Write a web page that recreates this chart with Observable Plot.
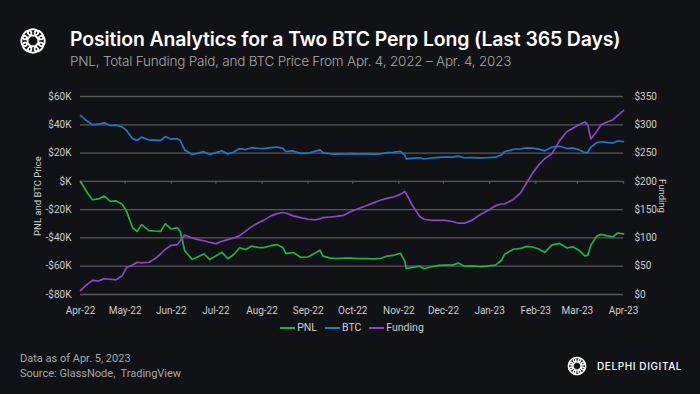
<!DOCTYPE html>
<html>
<head>
<meta charset="utf-8">
<script src="https://cdn.jsdelivr.net/npm/d3@7"></script>
<script src="https://cdn.jsdelivr.net/npm/@observablehq/plot@0.6"></script>
<style>
  html, body { margin: 0; padding: 0; background: #111215; }
  #wrap { position: relative; width: 700px; height: 394px; overflow: hidden; background: #111215; font-family: Inter, Roboto, sans-serif; }
  .abs { position: absolute; white-space: nowrap; }
  #title { left: 70px; top: 27px; font-size: 19.4px; font-weight: 600; color: #ffffff; letter-spacing: -0.1px; }
  #subtitle { left: 70px; top: 53px; font-size: 13.5px; font-weight: 300; color: #a9a9a9; letter-spacing: -0.2px; }
  .vlab { font-size: 9.5px; color: #cfcfcf; font-family: Roboto, sans-serif; line-height: 12px; width: 0; height: 0; }
  .vlab span { position: absolute; left: 0; top: 0; white-space: nowrap; }
  #ylab { left: 38px; top: 196px; }
  #ylab span { transform: translate(-50%, -50%) rotate(-90deg); transform-origin: 50% 50%; }
  #y2lab { left: 662px; top: 196px; }
  #y2lab span { transform: translate(-50%, -50%) rotate(90deg); transform-origin: 50% 50%; }
  #legend { left: 0; width: 700px; top: 321px; display: flex; justify-content: center; gap: 8px; font-family: Roboto, sans-serif; font-size: 10.5px; color: #cfcfcf; padding-left: 2px; }
  #legend span.item { display: inline-flex; align-items: center; }
  #legend span.sw { display: inline-block; width: 15px; height: 2px; margin-right: 2px; }
  #foot1 { left: 20px; top: 352px; font-size: 11px; color: #a9a9a9; font-family: Roboto, sans-serif; }
  #foot2 { left: 20px; top: 367px; font-size: 11px; color: #a9a9a9; font-family: Roboto, sans-serif; }
  #brand { left: 597px; top: 360px; font-size: 10px; font-weight: 500; color: #ffffff; letter-spacing: 0.6px; font-family: Inter, sans-serif; }
  #chart { left: 0; top: 80px; }
</style>
</head>
<body>
<div id="wrap">
  <svg class="abs" style="left:18px;top:26px" width="30" height="30" viewBox="-15 -15 30 30" id="logo1"></svg>
  <div class="abs" id="title">Position Analytics for a Two BTC Perp Long (Last 365 Days)</div>
  <div class="abs" id="subtitle">PNL, Total Funding Paid, and BTC Price From Apr. 4, 2022 – Apr. 4, 2023</div>
  <div class="abs" id="chart"></div>
  <div class="abs vlab" id="ylab"><span>PNL and BTC Price</span></div>
  <div class="abs vlab" id="y2lab"><span>Funding</span></div>
  <div class="abs" id="legend"></div>
  <div class="abs" id="foot1">Data as of Apr. 5, 2023</div>
  <div class="abs" id="foot2">Source: GlassNode,&nbsp; TradingView</div>
  <svg class="abs" style="left:566px;top:355px" width="22" height="22" viewBox="-15 -15 30 30" id="logo2"></svg>
  <div class="abs" id="brand">DELPHI DIGITAL</div>
</div>
<script>
// ---- data (values in $K for PNL and BTC, $ for Funding) ----
const dates = [
  "2022-04-04","2022-04-08","2022-04-12","2022-04-16","2022-04-20","2022-04-24","2022-04-28","2022-05-02","2022-05-05","2022-05-09",
  "2022-05-12","2022-05-15","2022-05-20","2022-05-24","2022-05-28","2022-05-31","2022-06-04","2022-06-08","2022-06-10","2022-06-13",
  "2022-06-18","2022-06-22","2022-06-26","2022-06-30","2022-07-04","2022-07-08","2022-07-12","2022-07-16","2022-07-20","2022-07-24",
  "2022-07-28","2022-08-01","2022-08-05","2022-08-10","2022-08-14","2022-08-18","2022-08-20","2022-08-25","2022-08-30","2022-09-04",
  "2022-09-09","2022-09-12","2022-09-14","2022-09-19","2022-09-23","2022-09-28","2022-10-03","2022-10-08","2022-10-13","2022-10-18",
  "2022-10-23","2022-10-27","2022-10-31","2022-11-05","2022-11-08","2022-11-09","2022-11-13","2022-11-18","2022-11-21","2022-11-26",
  "2022-12-01","2022-12-05","2022-12-10","2022-12-14","2022-12-18","2022-12-23","2022-12-28","2023-01-02","2023-01-08","2023-01-12",
  "2023-01-14","2023-01-20","2023-01-25","2023-01-29","2023-02-02","2023-02-06","2023-02-10","2023-02-15","2023-02-20","2023-02-25",
  "2023-03-01","2023-03-05","2023-03-09","2023-03-11","2023-03-13","2023-03-17","2023-03-20","2023-03-24","2023-03-28","2023-03-31",
  "2023-04-04"
];
const btc = [
  46.6,43.0,40.1,40.4,41.4,39.5,39.7,38.5,36.0,30.2,
  28.9,31.3,29.2,29.1,29.0,31.7,29.8,30.2,29.0,22.2,
  19.0,20.0,21.0,19.0,20.3,21.6,19.3,20.8,23.2,22.5,
  23.8,23.3,23.2,23.9,24.3,23.3,21.1,21.5,19.8,19.9,
  21.4,22.3,20.2,19.5,19.3,19.5,19.6,19.4,19.4,19.3,
  19.5,20.3,20.5,21.3,18.5,15.9,16.3,16.7,15.8,16.5,
  17.0,17.1,17.1,17.8,16.7,16.8,16.6,16.7,17.1,18.8,
  20.9,22.7,23.0,23.7,23.5,22.8,21.6,24.3,24.8,23.2,
  23.6,22.4,20.4,20.6,24.1,27.4,28.0,27.5,27.1,28.5,
  28.2
];
const pnl = [
  0.0,-7.2,-13.0,-12.4,-10.4,-14.2,-13.8,-16.2,-21.2,-32.8,
  -35.4,-30.6,-34.8,-35.1,-35.3,-29.9,-33.7,-32.9,-35.3,-48.9,
  -55.3,-53.3,-51.3,-55.3,-52.7,-50.1,-54.7,-51.7,-46.9,-48.3,
  -45.7,-46.7,-46.9,-45.5,-44.7,-46.7,-51.1,-50.3,-53.7,-53.5,
  -50.5,-48.7,-52.9,-54.3,-54.7,-54.3,-54.2,-54.6,-54.6,-54.8,
  -54.4,-52.8,-52.4,-50.8,-56.4,-61.6,-60.8,-60.0,-61.8,-60.4,
  -59.4,-59.2,-59.2,-57.8,-60.0,-59.8,-60.2,-60.0,-59.2,-55.8,
  -51.6,-48.0,-47.4,-46.0,-46.4,-47.8,-50.2,-44.9,-43.9,-47.1,
  -46.3,-48.7,-52.7,-52.3,-45.3,-38.7,-37.5,-38.5,-39.3,-36.5,
  -37.1
];
const funding = [
  7,17,25,24,28,27,26,33,48,52,
  57,56,57,63,72,80,87,88,95,105,
  100,97,95,92,90,94,97,100,104,112,
  120,126,131,139,143,145,144,139,136,133,
  132,134,136,137,138,140,147,152,157,162,
  167,170,172,177,182,178,158,138,133,131,
  131,131,129,126,126,131,140,147,157,160,
  160,168,180,198,215,229,240,249,272,288,
  294,300,305,300,275,288,300,305,309,316,
  325
];
const monthTicks = ["2022-04-04","2022-05-04","2022-06-04","2022-07-04","2022-08-04","2022-09-04","2022-10-04","2022-11-04","2022-12-04","2023-01-04","2023-02-04","2023-03-04","2023-04-04"];
const leftTicks = [-80,-60,-40,-20,0,20,40,60];
const fundingTicks = [0,50,100,150,200,250,300,350];
const seriesNames = ["PNL","BTC","Funding"];
const seriesColors = ["#22b04b","#1f78c9","#8d46c6"];

// ---- build ----
const fy = d3.scaleLinear([0, 350], [-80, 60]);
const rows = dates.map((d, i) => ({date: new Date(d), pnl: pnl[i], btc: btc[i], funding: funding[i]}));
const tickDates = monthTicks.map(d => new Date(d));
const fmtLeft = d => d === 0 ? "$K" : (d < 0 ? "-$" : "$") + Math.abs(d) + "K";

const chart = Plot.plot({
  width: 700,
  height: 260,
  marginTop: 16,
  marginBottom: 46,
  marginLeft: 80,
  marginRight: 77,
  style: {background: "transparent", fontFamily: "Roboto, sans-serif", color: "#cfcfcf"},
  x: {type: "utc", domain: [new Date("2022-04-04"), new Date("2023-04-04")]},
  y: {domain: [-80, 60]},
  marks: [
    Plot.gridY(leftTicks, {stroke: "#57585b", strokeOpacity: 1, strokeWidth: 1.3}),
    Plot.ruleX(tickDates, {x: d => d, y1: 0, y2: -2, stroke: "#57585b", strokeWidth: 1.3}),
    Plot.axisY({ticks: leftTicks, tickFormat: fmtLeft, tickSize: 0, tickPadding: 9, fontSize: 10, fill: "#cfcfcf", label: null}),
    Plot.axisY({anchor: "right", ticks: fundingTicks.map(fy), tickFormat: d => "$" + Math.round(fy.invert(d)), tickSize: 0, tickPadding: 11, fontSize: 10, fill: "#cfcfcf", label: null}),
    Plot.axisX({ticks: tickDates, tickFormat: d3.utcFormat("%b-%y"), tickSize: 0, tickPadding: 12, fontSize: 10, fill: "#cfcfcf", label: null}),
    Plot.lineY(rows, {x: "date", y: "pnl", stroke: seriesColors[0], strokeWidth: 1.7}),
    Plot.lineY(rows, {x: "date", y: "btc", stroke: seriesColors[1], strokeWidth: 1.7}),
    Plot.lineY(rows, {x: "date", y: d => fy(d.funding), stroke: seriesColors[2], strokeWidth: 1.7})
  ]
});
document.getElementById("chart").appendChild(chart);

// legend
const lg = document.getElementById("legend");
seriesNames.forEach((n, i) => {
  const it = document.createElement("span");
  it.className = "item";
  it.innerHTML = `<span class="sw" style="background:${seriesColors[i]}"></span>${n}`;
  lg.appendChild(it);
});

// logos (decorative ring of loops)
function drawLogo(id) {
  const s = d3.select("#" + id);
  const n = 8;
  for (let k = 0; k < n; k++) {
    const a = k / n * 2 * Math.PI;
    s.append("ellipse")
      .attr("cx", 8.5 * Math.cos(a)).attr("cy", 8.5 * Math.sin(a))
      .attr("rx", 5.2).attr("ry", 3.2)
      .attr("transform", `rotate(${a * 180 / Math.PI + 90} ${8.5 * Math.cos(a)} ${8.5 * Math.sin(a)})`)
      .attr("fill", "none").attr("stroke", "#ffffff").attr("stroke-width", 2);
  }
}
drawLogo("logo1");
drawLogo("logo2");
</script>
</body>
</html>
